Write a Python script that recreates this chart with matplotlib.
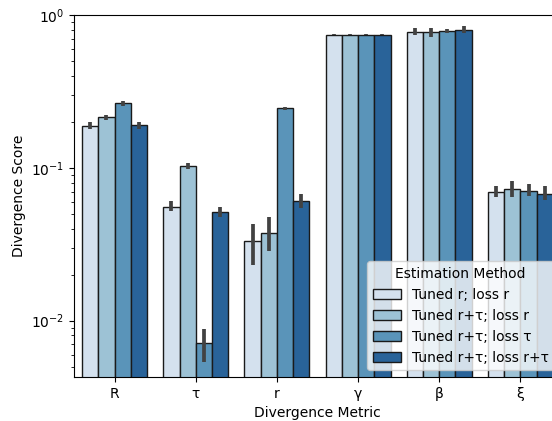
import numpy as np
import matplotlib
matplotlib.use("Agg")
import matplotlib.pyplot as plt
import seaborn as sns

categories = ["R", "τ", "r", "γ", "β", "ξ"]
methods = ["Tuned r; loss r", "Tuned r+τ; loss r", "Tuned r+τ; loss τ", "Tuned r+τ; loss r+τ"]

# mean values per method (rows) and category (columns)
values = [
    [0.188, 0.0554, 0.0332, 0.743, 0.778, 0.0700],
    [0.214, 0.1026, 0.0374, 0.743, 0.774, 0.0726],
    [0.265, 0.00715, 0.2455, 0.743, 0.790, 0.0710],
    [0.190, 0.0513, 0.0603, 0.743, 0.800, 0.0676],
]
err_low = [
    [0.179, 0.0518, 0.0231, 0.735, 0.740, 0.0649],
    [0.206, 0.0980, 0.0284, 0.735, 0.721, 0.0649],
    [0.254, 0.00537, 0.2400, 0.735, 0.760, 0.0657],
    [0.180, 0.0476, 0.0545, 0.735, 0.759, 0.0619],
]
err_high = [
    [0.198, 0.0603, 0.0430, 0.751, 0.822, 0.0763],
    [0.222, 0.1070, 0.0480, 0.751, 0.822, 0.0826],
    [0.275, 0.00887, 0.2500, 0.751, 0.814, 0.0785],
    [0.198, 0.0558, 0.0673, 0.751, 0.852, 0.0763],
]

colors = sns.color_palette("Blues", 4, desat=0.75)

fig = plt.figure(figsize=(5.52, 4.21), dpi=100)
ax = fig.add_axes([74 / 552, 1 - 377 / 421, (561 - 74) / 552, (377 - 15) / 421])

x = np.arange(len(categories))
width = 0.8 / len(methods)
for i, m in enumerate(methods):
    pos = x - 0.4 + width * (i + 0.5)
    v = np.array(values[i])
    lo = v - np.array(err_low[i])
    hi = np.array(err_high[i]) - v
    ax.bar(pos, v, width=width, color=colors[i], edgecolor="0.1", linewidth=1.0, label=m)
    ax.errorbar(pos, v, yerr=[lo, hi], fmt="none", ecolor="#424242", elinewidth=2.7, capsize=0)

ax.set_yscale("log")
ax.set_ylim(0.00428, 1.0)
ax.set_xlim(-0.5, len(categories) - 0.5)
ax.set_xticks(x)
ax.set_xticklabels(categories)
ax.set_xlabel("Divergence Metric")
ax.set_ylabel("Divergence Score")
ax.legend(title="Estimation Method", loc="lower right", framealpha=0.8)

fig.savefig("out.png", dpi=100)
